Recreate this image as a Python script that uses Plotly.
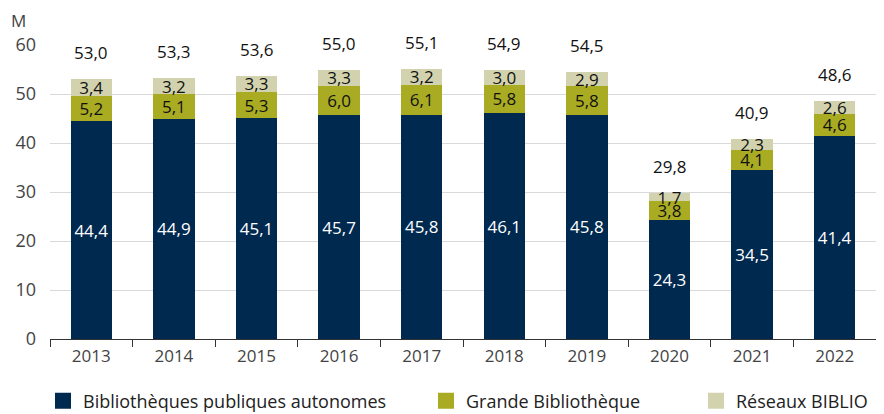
import plotly.graph_objects as go

years = ["2013", "2014", "2015", "2016", "2017", "2018", "2019", "2020", "2021", "2022"]
bpa = [44.4, 44.9, 45.1, 45.7, 45.8, 46.1, 45.8, 24.3, 34.5, 41.4]
gb = [5.2, 5.1, 5.3, 6.0, 6.1, 5.8, 5.8, 3.8, 4.1, 4.6]
biblio = [3.4, 3.2, 3.3, 3.3, 3.2, 3.0, 2.9, 1.7, 2.3, 2.6]
totals = [53.0, 53.3, 53.6, 55.0, 55.1, 54.9, 54.5, 29.8, 40.9, 48.6]
names = ["Bibliothèques publiques autonomes", "Grande Bibliothèque", "Réseaux BIBLIO"]
colors = ["#00294F", "#A9AB23", "#D2D3AE"]
text_colors = ["white", "#111111", "#111111"]
legend_ids = ["legend", "legend2", "legend3"]
legend_x = [35, 418, 688]

def fmt(v):
    return f"{v:.1f}".replace(".", ",")

W, H = 876, 406
L, R, T, B = 42, 8, 37, 75
PW, PH = W - L - R, H - T - B

FONT = "Open Sans"
fig = go.Figure()
for vals, name, col, tc in zip([bpa, gb, biblio], names, colors, text_colors):
    fig.add_trace(go.Bar(
        x=years, y=vals, name=name, marker=dict(color=col, line=dict(width=0)),
        text=[fmt(v) for v in vals], textposition="inside", insidetextanchor="middle",
        textangle=0, constraintext="none",
        textfont=dict(family=FONT, size=17, color=tc), showlegend=False,
        hoverinfo="skip",
    ))
for name, col, lid in zip(names, colors, legend_ids):
    fig.add_trace(go.Scatter(
        x=[years[0]], y=[-100], mode="markers", name=name, hoverinfo="skip",
        marker=dict(symbol="square", size=16, color=col), legend=lid,
    ))

for i, t in enumerate(totals):
    fig.add_annotation(x=i, y=t, text=fmt(t), showarrow=False, yanchor="bottom",
                       yshift=13, font=dict(family=FONT, size=17, color="#111111"))

fig.add_annotation(xref="paper", yref="paper", x=(11 - L) / PW, y=(T + PH - 12) / PH,
                   text="M", showarrow=False, xanchor="center", yanchor="middle",
                   font=dict(family=FONT, size=17, color="#444444"))

leg_common = dict(orientation="h", xanchor="left", yref="container", yanchor="middle",
                  y=1 - 393 / H, xref="container", itemwidth=30,
                  font=dict(family=FONT, size=18, color="#222222"),
                  bgcolor="rgba(0,0,0,0)")

fig.update_layout(
    width=W, height=H, barmode="stack", bargap=0.5,
    margin=dict(l=L, r=R, t=T, b=B, autoexpand=False),
    plot_bgcolor="white", paper_bgcolor="white",
    font=dict(family=FONT, size=16, color="#444444"),
    uniformtext=dict(minsize=17, mode="show"),
    legend=dict(x=legend_x[0] / W, **leg_common),
    legend2=dict(x=legend_x[1] / W, **leg_common),
    legend3=dict(x=legend_x[2] / W, **leg_common),
)
fig.update_xaxes(type="category", range=[-0.5, 9.5], showline=True, linecolor="#333333",
                 linewidth=1, ticks="outside", tickson="boundaries", ticklen=7,
                 tickcolor="#333333", automargin=False, ticklabelstandoff=2,
                 tickfont=dict(family=FONT, size=17, color="#444444"))
fig.update_yaxes(range=[0, 60], dtick=10, showgrid=True, gridcolor="#D9D9D9",
                 zeroline=False, ticklabelstandoff=13, automargin=False,
                 tickfont=dict(family=FONT, size=18, color="#444444"))

fig.write_html("out.html")
